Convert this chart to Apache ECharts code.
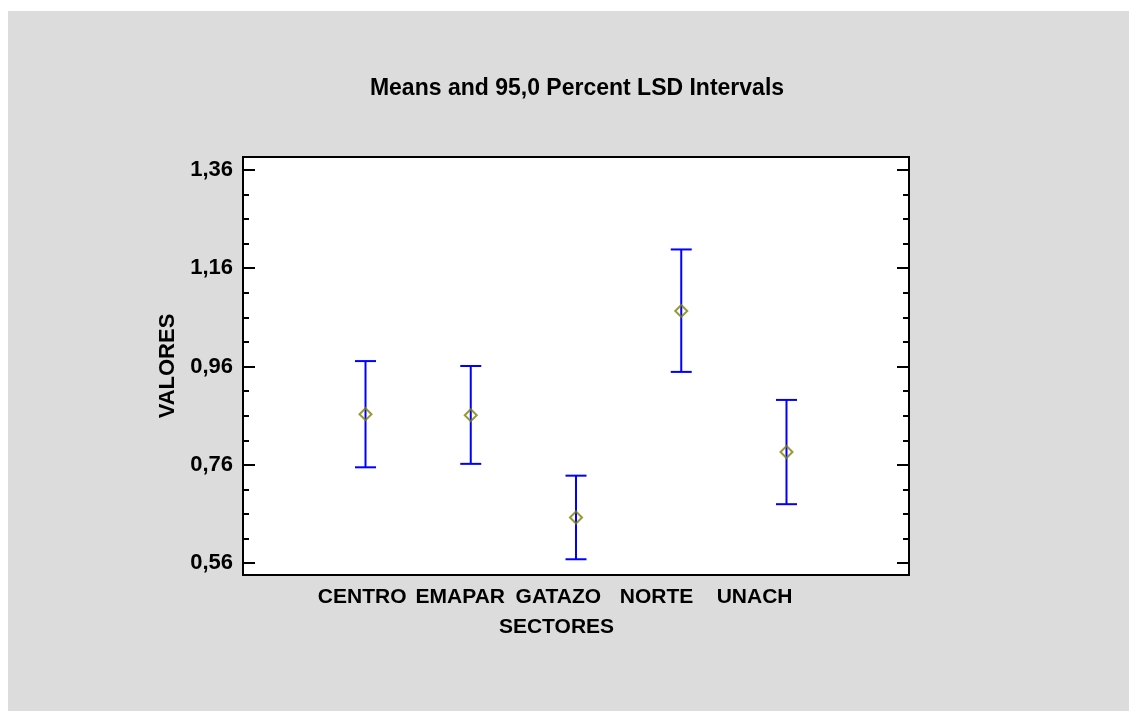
<!DOCTYPE html>
<html>
<head>
<meta charset="utf-8">
<title>Means and 95,0 Percent LSD Intervals</title>
<script src="https://cdn.jsdelivr.net/npm/echarts@6/dist/echarts.min.js"></script>
<style>
  html, body { margin: 0; padding: 0; background: #ffffff; }
  #wrap { position: relative; width: 1129px; height: 711px; background: #ffffff; overflow: hidden; }
  #chart { position: absolute; left: 8px; top: 11px; width: 1121px; height: 700px; background: #dcdcdc; }
</style>
</head>
<body>
<div id="wrap"><div id="chart"></div></div>
<script>
// Sectors on the horizontal axis
const categories = ['CENTRO', 'EMAPAR', 'GATAZO', 'NORTE', 'UNACH'];
// Group means and the 95% LSD interval limits
const means = [0.863, 0.861, 0.653, 1.073, 0.786];
const lowerLimits = [0.755, 0.762, 0.568, 0.949, 0.680];
const upperLimits = [0.971, 0.961, 0.738, 1.198, 0.892];
// Value axis ticks
const yTickValues = [0.56, 0.76, 0.96, 1.16, 1.36];
const yTickLabels = ['0,56', '0,76', '0,96', '1,16', '1,36'];
const yMinorTickValues = [0.56, 0.61, 0.66, 0.71, 0.76, 0.81, 0.86, 0.91, 0.96, 1.01, 1.06, 1.11, 1.16, 1.21, 1.26, 1.31, 1.36];
const Y_MIN = 0.536, Y_MAX = 1.386;

const FONT = '"Liberation Sans", Arial, Helvetica, sans-serif';
const chart = echarts.init(document.getElementById('chart'), null, { renderer: 'canvas' });

const idx = categories.map((_, i) => i);
const barData = categories.map((_, i) => [i, lowerLimits[i], upperLimits[i]]);
const meanData = categories.map((_, i) => [i, means[i]]);

function yAxisDef(position, tickValues, tickLen, showLabels) {
  return {
    type: 'value', position: position, min: Y_MIN, max: Y_MAX,
    axisLine: { show: false, onZero: false },
    splitLine: { show: false },
    axisTick: { show: true, inside: true, length: tickLen, customValues: tickValues,
                lineStyle: { color: '#000', width: 2 } },
    axisLabel: showLabels ? {
      show: true, customValues: yTickValues, margin: 10,
      formatter: v => yTickLabels[yTickValues.findIndex(t => Math.abs(t - v) < 1e-6)] || '',
      color: '#000', fontFamily: FONT, fontWeight: 'bold', fontSize: 22
    } : { show: false }
  };
}

const yAxes = [
  yAxisDef('left', yTickValues, 12, true),
  yAxisDef('left', yMinorTickValues, 6, false),
  yAxisDef('right', yTickValues, 12, false),
  yAxisDef('right', yMinorTickValues, 6, false)
];
yAxes[0].name = 'VALORES';
yAxes[0].nameLocation = 'middle';
yAxes[0].nameRotate = 90;
yAxes[0].nameGap = 64;
yAxes[0].nameTextStyle = { color: '#000', fontFamily: FONT, fontWeight: 'bold', fontSize: 22 };

const option = {
  backgroundColor: 'transparent',
  animation: false,
  title: {
    text: 'Means and 95,0 Percent LSD Intervals',
    left: 564, top: 61, textAlign: 'center',
    textStyle: { color: '#000', fontFamily: FONT, fontWeight: 'bold', fontSize: 23 }
  },
  grid: {
    left: 235, top: 146, width: 666, height: 418,
    show: true, backgroundColor: '#ffffff', borderColor: '#000', borderWidth: 2,
    outerBoundsMode: 'none'
  },
  xAxis: [
    {
      // positions of the intervals
      type: 'value', position: 'bottom', min: -1.164, max: 5.164,
      axisLine: { show: false, onZero: false }, axisTick: { show: false },
      axisLabel: { show: false }, splitLine: { show: false }
    },
    {
      // sector names
      type: 'value', position: 'bottom', min: -1.215, max: 5.574,
      axisLine: { show: false, onZero: false }, axisTick: { show: false }, splitLine: { show: false },
      axisLabel: {
        show: true, customValues: idx, margin: 12,
        formatter: v => categories[Math.round(v)] || '',
        color: '#000', fontFamily: FONT, fontWeight: 'bold', fontSize: 21
      },
      name: 'SECTORES', nameLocation: 'middle', nameGap: 42,
      nameTextStyle: { color: '#000', fontFamily: FONT, fontWeight: 'bold', fontSize: 21,
                       padding: [0, 39, 0, 0] }
    }
  ],
  yAxis: yAxes,
  series: [
    {
      type: 'custom',
      xAxisIndex: 0, yAxisIndex: 0,
      data: barData,
      renderItem: function (params, api) {
        const x = api.value(0);
        const lo = api.coord([x, api.value(1)]);
        const hi = api.coord([x, api.value(2)]);
        const half = 10.5;
        const style = { stroke: '#0000ff', lineWidth: 2 };
        return {
          type: 'group',
          children: [
            { type: 'line', shape: { x1: lo[0], y1: lo[1], x2: hi[0], y2: hi[1] }, style: style },
            { type: 'line', shape: { x1: hi[0] - half, y1: hi[1], x2: hi[0] + half, y2: hi[1] }, style: style },
            { type: 'line', shape: { x1: lo[0] - half, y1: lo[1], x2: lo[0] + half, y2: lo[1] }, style: style }
          ]
        };
      },
      z: 2
    },
    {
      type: 'scatter',
      xAxisIndex: 0, yAxisIndex: 0,
      data: meanData,
      symbol: 'diamond',
      symbolSize: [12, 12],
      itemStyle: { color: 'rgba(0,0,0,0)', borderColor: '#808000', borderWidth: 2 },
      z: 3
    }
  ]
};
chart.setOption(option);
</script>
</body>
</html>
